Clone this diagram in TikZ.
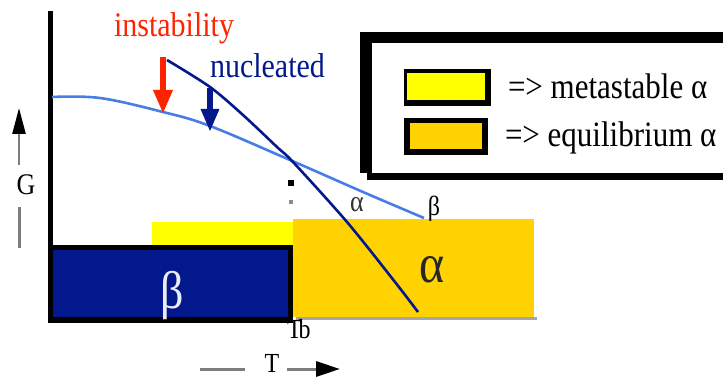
\documentclass[tikz,border=0pt]{standalone}
\usepackage{fontspec}
\setmainfont{Liberation Serif}
\usetikzlibrary{arrows.meta}
\definecolor{navy}{RGB}{2,24,140}
\definecolor{curveblue}{RGB}{72,125,230}
\definecolor{metayellow}{RGB}{255,255,0}
\definecolor{goldalpha}{RGB}{255,210,0}
\definecolor{redarrow}{RGB}{255,35,0}
\definecolor{axisgray}{RGB}{125,125,125}
\newcommand{\tall}[1]{\scalebox{1}[1.15]{#1}}
\newcommand{\fs}[1]{\fontsize{#1}{#1}\selectfont}
\tikzset{
  lbl/.style={inner sep=0pt, outer sep=0pt},
  axisline/.style={draw=axisgray, line width=3pt},
}
\begin{document}
\begin{tikzpicture}[x=1pt,y=-1pt]
\useasboundingbox (0,0) rectangle (723,377);

% ----- region boxes
\fill[metayellow] (152,222) rectangle (293,245);
\fill[black!35] (296,317) rectangle (537,320);
\fill[goldalpha] (293,219) rectangle (534,317);
\fill[black] (48,245) rectangle (293,323);
\fill[navy] (53,250) rectangle (288,317);
% vertical axis
\fill[black] (48,11) rectangle (53,323);

% ----- curves
\draw[curveblue, line width=2.6pt, line join=round]
  plot[smooth, tension=0.6] coordinates {(52,97) (100,98) (163,112) (210,126) (290,160) (363,192) (424,218)};
\draw[navy, line width=2.6pt, line join=round]
  plot[smooth, tension=0.5] coordinates {(167,60) (210,87) (243,115) (277,147) (293,162) (347,222) (395,282) (418,312)};

% transition marker
\fill[black] (288,180) rectangle (294,186);
\fill[black!45] (289,200) rectangle (293,204);

% ----- arrows
\coordinate (ra) at (163,57);
\coordinate (rb) at (163,114);
\coordinate (ba) at (210,88);
\coordinate (bb) at (210,132);
\draw[redarrow, line width=6pt, -{Triangle[length=24pt,width=18pt]}] (ra) -- (rb);
\draw[navy, line width=6pt, -{Triangle[length=23pt,width=17pt]}] (ba) -- (bb);

% ----- texts
\node[lbl, text=redarrow, anchor=base west] (instab) at (114,37) {\fs{30}\tall{instability}};
\node[lbl, text=navy, anchor=base west] (nucl) at (210,78) {\fs{30}\tall{nucleated}};
\node[lbl, text=black!80, anchor=center] (alsm) at (357,205) {\fs{26}\tall{α}};
\node[lbl, anchor=center] (besm) at (434,209) {\fs{24}\tall{β}};
\node[lbl, text=black!85, anchor=center] (albig) at (432,270) {\fs{48}\tall{α}};
\node[lbl, text=white!92!navy, anchor=center] (bebig) at (172,296) {\fs{46}\tall{β}};
\node[lbl, anchor=base west] (tb) at (287,338) {\fs{24}\tall{T\kern-3pt b}};

% ----- G axis label
\coordinate (ga) at (19,165);
\coordinate (gb) at (19,108);
\draw[draw=axisgray, line width=2.5pt, -{Triangle[length=26pt,width=13pt,color=black,fill=black]}] (ga) -- (gb);
\node[lbl] (G) at (26,185) {\fs{26}\tall{G}};
\coordinate (gc) at (19,207);
\coordinate (gd) at (19,248);
\draw[axisline] (gc) -- (gd);

% ----- T axis label
\coordinate (ta) at (200,369);
\coordinate (tbb) at (245,369);
\draw[axisline] (ta) -- (tbb);
\node[lbl, anchor=base] (T) at (272,372) {\fs{24}\tall{T}};
\coordinate (tc) at (287,369);
\coordinate (td) at (340,369);
\draw[draw=axisgray, line width=3pt, -{Triangle[length=24pt,width=15pt,color=black,fill=black]}] (tc) -- (td);

% ----- legend
\fill[black] (360,32) rectangle (372,173);
\fill[black] (360,32) rectangle (723,43);
\fill[black] (367,173) rectangle (723,180);
\fill[black] (404,69) rectangle (491,106);
\fill[metayellow] (407,73) rectangle (485,100);
\fill[black] (404,118) rectangle (488,155);
\fill[goldalpha] (410,123) rectangle (482,149);
\node[lbl, anchor=base west] (lg1) at (508,99) {\fs{31}\tall{=> metastable α}};
\node[lbl, anchor=base west] (lg2) at (505,147) {\fs{31}\tall{=> equilibrium α}};
\end{tikzpicture}
\end{document}
